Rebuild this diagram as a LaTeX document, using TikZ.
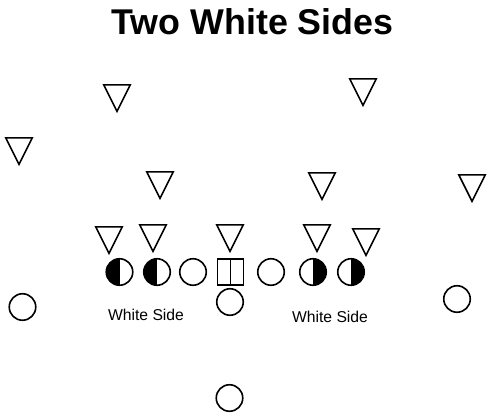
\documentclass[tikz,border=0pt]{standalone}
\usepackage{fontspec}
\setmainfont{Liberation Sans}
\usetikzlibrary{shapes.geometric}

\tikzset{
  player/.style={circle, draw, line width=1.6pt, minimum size=26.5pt, inner sep=0pt},
  halfleft/.style={player, path picture={\fill (path picture bounding box.south west) rectangle (path picture bounding box.north);}},
  halfright/.style={player, path picture={\fill (path picture bounding box.south) rectangle (path picture bounding box.north east);}},
  center/.style={rectangle, draw, line width=1.6pt, minimum size=26pt, inner sep=0pt},
  defender/.style={isosceles triangle, isosceles triangle stretches, shape border rotate=270, draw, line width=1.6pt, minimum width=26.5pt, minimum height=26.5pt, inner sep=0pt, anchor=north},
  sidelabel/.style={font=\fontsize{15.7}{17}\selectfont}
}

\begin{document}
\begin{tikzpicture}[x=1pt,y=-1pt]
  \useasboundingbox (0,0) rectangle (492,417);
  \node[font=\fontsize{35.8}{40}\selectfont\bfseries, anchor=base] (title) at (252.5,35) {Two White Sides};
  % defense (placed by the top edge)
  \node[defender] (d1) at (117,84)  {};
  \node[defender] (d2) at (363,78)  {};
  \node[defender] (d3) at (19,137)  {};
  \node[defender] (d4) at (160,171) {};
  \node[defender] (d5) at (322,172) {};
  \node[defender] (d6) at (472,174) {};
  \node[defender] (d7) at (109,226) {};
  \node[defender] (d8) at (153,224) {};
  \node[defender] (d9) at (230,224) {};
  \node[defender] (d10) at (317,224) {};
  \node[defender] (d11) at (366,228) {};
  % offensive line
  \node[halfleft]  (lt) at (119.5,272) {};
  \node[halfleft]  (lg) at (157,272) {};
  \node[player]    (lc) at (193,272) {};
  \node[center]    (c)  at (230.5,272) {};
  \draw[line width=1.2pt] (c.north) -- (c.south);
  \node[player]    (rc) at (271,272) {};
  \node[halfright] (rg) at (313,272) {};
  \node[halfright] (rt) at (351,272) {};
  % backs
  \node[player] (wl) at (22.5,307) {};
  \node[player] (qb) at (230,302) {};
  \node[player] (wr) at (457,299) {};
  \node[player] (rb) at (229.5,398) {};
  \node[sidelabel] (ws1) at (146,315) {White Side};
  \node[sidelabel] (ws2) at (330,317) {White Side};
\end{tikzpicture}
\end{document}
